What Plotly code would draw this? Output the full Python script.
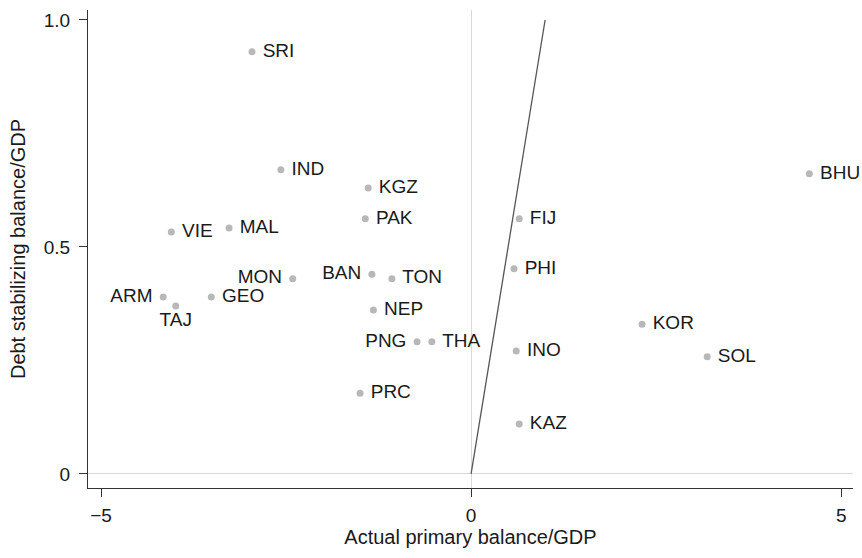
import plotly.graph_objects as go

countries = ["SRI", "IND", "KGZ", "BHU", "PAK", "FIJ", "VIE", "MAL", "MON", "BAN",
             "TON", "PHI", "ARM", "TAJ", "GEO", "NEP", "PNG", "THA", "KOR", "SOL",
             "INO", "PRC", "KAZ"]
primary_balance = [-2.96, -2.57, -1.39, 4.57, -1.43, 0.65, -4.05, -3.27, -2.41, -1.34,
                   -1.07, 0.58, -4.16, -3.99, -3.51, -1.32, -0.73, -0.53, 2.31, 3.19,
                   0.61, -1.50, 0.65]
debt_stab_balance = [0.930, 0.670, 0.630, 0.661, 0.562, 0.562, 0.533, 0.542, 0.430, 0.440,
                     0.430, 0.452, 0.390, 0.370, 0.390, 0.361, 0.291, 0.291, 0.330, 0.258,
                     0.271, 0.178, 0.110]
label_pos = ["middle right", "middle right", "middle right", "middle right", "middle right",
             "middle right", "middle right", "middle right", "middle left", "middle left",
             "middle right", "middle right", "middle left", "bottom center", "middle right",
             "middle right", "middle left", "middle right", "middle right", "middle right",
             "middle right", "middle right", "middle right"]

line_x = [0, 1]
line_y = [0, 1]

FONT = "Liberation Sans, Arial, Helvetica, sans-serif"
TXT = "#1a1a1a"


def pad(name, pos):
    if pos.endswith("right"):
        return " " + name
    if pos.endswith("left"):
        return name + " "
    return name


display_text = [pad(c, p) for c, p in zip(countries, label_pos)]

fig = go.Figure()
fig.add_trace(go.Scatter(
    x=line_x, y=line_y, mode="lines",
    line=dict(color="#555555", width=1.3),
    hoverinfo="skip", showlegend=False,
))
fig.add_trace(go.Scatter(
    x=primary_balance, y=debt_stab_balance, mode="markers+text",
    text=display_text, textposition=label_pos,
    textfont=dict(family=FONT, size=19, color=TXT),
    marker=dict(color="#b8b8b8", size=7),
    showlegend=False, cliponaxis=False,
))

fig.update_layout(
    width=862, height=558,
    margin=dict(l=88, r=9, t=10, b=70),
    plot_bgcolor="white", paper_bgcolor="white",
    font=dict(family=FONT, color=TXT, size=19),
    xaxis=dict(
        range=[-5.176, 5.16], tickvals=[-5, 0, 5], ticktext=["\u22125", "0", "5"],
        showgrid=False, zeroline=True, zerolinecolor="#d9d9d9", zerolinewidth=1,
        showline=True, linecolor="#333333", linewidth=1.3,
        ticks="outside", ticklen=8, tickcolor="#333333", tickwidth=1.3,
        tickfont=dict(size=19, color=TXT), automargin=False, ticklabelstandoff=2,
        title=dict(text="Actual primary balance/GDP", font=dict(size=20, color=TXT), standoff=0),
    ),
    yaxis=dict(
        range=[-0.031, 1.022], tickvals=[0, 0.5, 1.0], ticktext=["0", "0.5", "1.0"],
        showgrid=False, zeroline=True, zerolinecolor="#d9d9d9", zerolinewidth=1,
        showline=True, linecolor="#333333", linewidth=1.3,
        ticks="outside", ticklen=8, tickcolor="#333333", tickwidth=1.3,
        tickfont=dict(size=19, color=TXT), automargin=False, ticklabelstandoff=5,
        title=dict(text="Debt stabilizing balance/GDP", font=dict(size=20, color=TXT), standoff=12),
    ),
)

fig.write_html(
    "out.html",
    config={"displayModeBar": False},
    post_script="document.body.style.margin='0';document.body.style.overflow='hidden';",
)
